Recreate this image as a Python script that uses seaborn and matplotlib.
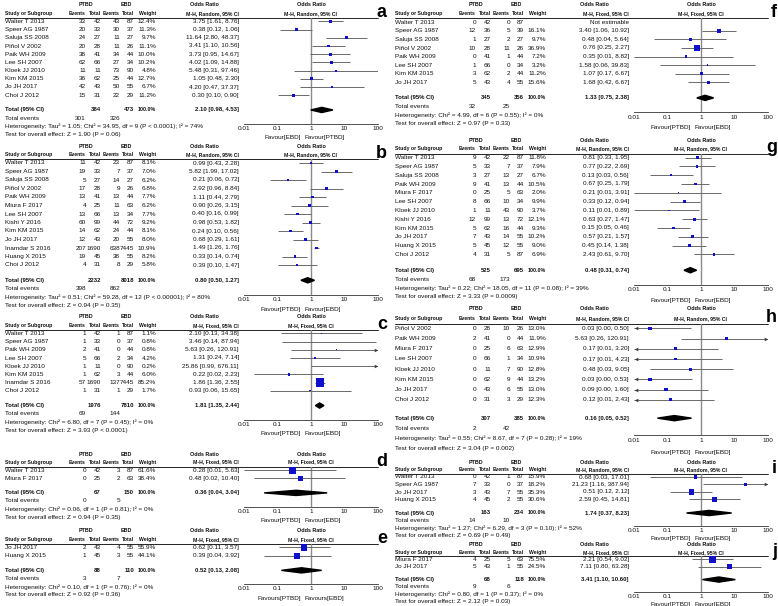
import matplotlib
matplotlib.use("Agg")
import matplotlib.pyplot as plt
import seaborn as sns
import pandas as pd
from matplotlib.ticker import NullLocator

# study rows: name, PTBD events, PTBD total, EBD events, EBD total, weight %, OR, lower, upper
a_rows = [
    ("Walter T 2013", 33, 42, 43, 87, 12.4, 3.75, 1.61, 8.76),
    ("Speer AG 1987", 20, 33, 30, 37, 11.3, 0.38, 0.12, 1.06),
    ("Saluja SS 2008", 24, 27, 11, 27, 9.7, 11.64, 2.80, 48.37),
    ("Piñol V 2002", 20, 28, 11, 26, 11.1, 3.41, 1.10, 10.56),
    ("Paik WH 2009", 38, 41, 34, 44, 10.0, 3.73, 0.95, 14.67),
    ("Lee SH 2007", 62, 66, 27, 34, 10.2, 4.02, 1.09, 14.88),
    ("Kloek JJ 2010", 11, 11, 73, 90, 4.8, 5.48, 0.31, 97.46),
    ("Kim KM 2015", 36, 62, 25, 44, 12.7, 1.05, 0.48, 2.30),
    ("Jo JH 2017", 42, 43, 50, 55, 6.7, 4.20, 0.47, 37.37),
    ("Choi J 2012", 15, 31, 22, 29, 11.2, 0.30, 0.10, 0.90),
]
a_total = (384, 473, 2.10, 0.98, 4.53)
a_events = (301, 326)
a_het = "Heterogeneity: Tau² = 1.05; Chi² = 34.95, df = 9 (P < 0.0001); I² = 74%"
a_test = "Test for overall effect: Z = 1.90 (P = 0.06)"

b_rows = [
    ("Walter T 2013", 11, 42, 23, 87, 8.1, 0.99, 0.43, 2.28),
    ("Speer AG 1987", 19, 33, 7, 37, 7.0, 5.82, 1.99, 17.02),
    ("Saluja SS 2008", 5, 27, 14, 27, 6.2, 0.21, 0.06, 0.72),
    ("Piñol V 2002", 17, 28, 9, 26, 6.8, 2.92, 0.96, 8.84),
    ("Paik WH 2009", 13, 41, 13, 44, 7.7, 1.11, 0.44, 2.79),
    ("Miura F 2017", 4, 25, 11, 63, 6.2, 0.90, 0.26, 3.15),
    ("Lee SH 2007", 13, 66, 13, 34, 7.7, 0.40, 0.16, 0.99),
    ("Kishi Y 2016", 60, 99, 44, 72, 9.2, 0.98, 0.53, 1.82),
    ("Kim KM 2015", 14, 62, 24, 44, 8.1, 0.24, 0.10, 0.56),
    ("Jo JH 2017", 12, 43, 20, 55, 8.0, 0.68, 0.29, 1.61),
    ("Inamdar S 2016", 207, 1690, 638, 7445, 10.9, 1.49, 1.26, 1.76),
    ("Huang X 2015", 19, 45, 38, 55, 8.2, 0.33, 0.14, 0.74),
    ("Choi J 2012", 4, 31, 8, 29, 5.8, 0.39, 0.10, 1.47),
]
b_total = (2232, 8018, 0.80, 0.50, 1.27)
b_events = (398, 862)
b_het = "Heterogeneity: Tau² = 0.51; Chi² = 59.28, df = 12 (P < 0.00001); I² = 80%"
b_test = "Test for overall effect: Z = 0.94 (P = 0.35)"

c_rows = [
    ("Walter T 2013", 1, 42, 1, 87, 1.1, 2.10, 0.13, 34.38),
    ("Speer AG 1987", 1, 33, 0, 37, 0.8, 3.46, 0.14, 87.94),
    ("Paik WH 2009", 2, 41, 0, 44, 0.8, 5.63, 0.26, 120.91),
    ("Lee SH 2007", 5, 66, 2, 34, 4.2, 1.31, 0.24, 7.14),
    ("Kloek JJ 2010", 1, 11, 0, 90, 0.2, 25.86, 0.99, 676.11),
    ("Kim KM 2015", 1, 62, 3, 44, 6.0, 0.22, 0.02, 2.23),
    ("Inamdar S 2016", 57, 1690, 137, 7445, 85.2, 1.86, 1.36, 2.55),
    ("Choi J 2012", 1, 31, 1, 29, 1.7, 0.93, 0.06, 15.65),
]
c_total = (1976, 7810, 1.81, 1.35, 2.44)
c_events = (69, 144)
c_het = "Heterogeneity: Chi² = 6.80, df = 7 (P = 0.45); I² = 0%"
c_test = "Test for overall effect: Z = 3.93 (P < 0.0001)"

d_rows = [
    ("Walter T 2013", 0, 42, 3, 87, 61.6, 0.28, 0.01, 5.63),
    ("Miura F 2017", 0, 25, 2, 63, 38.4, 0.48, 0.02, 10.40),
]
d_total = (67, 150, 0.36, 0.04, 3.04)
d_events = (0, 5)
d_het = "Heterogeneity: Chi² = 0.06, df = 1 (P = 0.81); I² = 0%"
d_test = "Test for overall effect: Z = 0.94 (P = 0.35)"

e_rows = [
    ("Jo JH 2017", 2, 43, 4, 55, 55.9, 0.62, 0.11, 3.57),
    ("Huang X 2015", 1, 45, 3, 55, 44.1, 0.39, 0.04, 3.92),
]
e_total = (88, 110, 0.52, 0.13, 2.08)
e_events = (3, 7)
e_het = "Heterogeneity: Chi² = 0.10, df = 1 (P = 0.76); I² = 0%"
e_test = "Test for overall effect: Z = 0.92 (P = 0.36)"

f_rows = [
    ("Walter T 2013", 0, 42, 0, 87, None, None, None, None),
    ("Speer AG 1987", 12, 36, 5, 39, 16.1, 3.40, 1.06, 10.92),
    ("Saluja SS 2008", 1, 27, 2, 27, 9.7, 0.48, 0.04, 5.64),
    ("Piñol V 2002", 10, 28, 11, 26, 36.9, 0.76, 0.25, 2.27),
    ("Paik WH 2009", 0, 41, 1, 44, 7.2, 0.35, 0.01, 8.82),
    ("Lee SH 2007", 1, 66, 0, 34, 3.2, 1.58, 0.06, 39.83),
    ("Kim KM 2015", 3, 62, 2, 44, 11.2, 1.07, 0.17, 6.67),
    ("Jo JH 2017", 5, 43, 4, 55, 15.6, 1.68, 0.42, 6.67),
]
f_total = (345, 356, 1.33, 0.75, 2.38)
f_events = (32, 25)
f_het = "Heterogeneity: Chi² = 4.99, df = 6 (P = 0.55); I² = 0%"
f_test = "Test for overall effect: Z = 0.97 (P = 0.33)"

g_rows = [
    ("Walter T 2013", 9, 42, 22, 87, 11.8, 0.81, 0.33, 1.95),
    ("Speer AG 1987", 5, 33, 7, 37, 7.9, 0.77, 0.22, 2.69),
    ("Saluja SS 2008", 3, 27, 13, 27, 6.7, 0.13, 0.03, 0.56),
    ("Paik WH 2009", 9, 41, 13, 44, 10.5, 0.67, 0.25, 1.79),
    ("Miura F 2017", 0, 25, 5, 63, 2.0, 0.21, 0.01, 3.91),
    ("Lee SH 2007", 8, 66, 10, 34, 9.9, 0.33, 0.12, 0.94),
    ("Kloek JJ 2010", 1, 11, 43, 90, 3.7, 0.11, 0.01, 0.89),
    ("Kishi Y 2016", 12, 99, 13, 72, 12.1, 0.63, 0.27, 1.47),
    ("Kim KM 2015", 5, 62, 16, 44, 9.3, 0.15, 0.05, 0.46),
    ("Jo JH 2017", 7, 43, 14, 55, 10.2, 0.57, 0.21, 1.57),
    ("Huang X 2015", 5, 45, 12, 55, 9.0, 0.45, 0.14, 1.38),
    ("Choi J 2012", 4, 31, 5, 87, 6.9, 2.43, 0.61, 9.70),
]
g_total = (525, 695, 0.48, 0.31, 0.74)
g_events = (68, 173)
g_het = "Heterogeneity: Tau² = 0.22; Chi² = 18.05, df = 11 (P = 0.08); I² = 39%"
g_test = "Test for overall effect: Z = 3.33 (P = 0.0009)"

# lower limits below 0.01 are estimated (the printed value rounds them)
h_rows = [
    ("Piñol V 2002", 0, 28, 10, 26, 13.0, 0.03, 0.003, 0.50),
    ("Paik WH 2009", 2, 41, 0, 44, 11.9, 5.63, 0.26, 120.91),
    ("Miura F 2017", 0, 25, 6, 63, 12.9, 0.17, 0.0095, 3.20),
    ("Lee SH 2007", 0, 66, 1, 34, 10.9, 0.17, 0.0070, 4.23),
    ("Kloek JJ 2010", 0, 11, 7, 90, 12.8, 0.48, 0.03, 9.05),
    ("Kim KM 2015", 0, 62, 9, 44, 13.2, 0.03, 0.002, 0.53),
    ("Jo JH 2017", 0, 43, 6, 55, 13.0, 0.09, 0.004, 1.60),
    ("Choi J 2012", 0, 31, 3, 29, 12.3, 0.12, 0.0062, 2.43),
]
h_total = (307, 385, 0.16, 0.05, 0.52)
h_events = (2, 42)
h_het = "Heterogeneity: Tau² = 0.55; Chi² = 8.67, df = 7 (P = 0.28); I² = 19%"
h_test = "Test for overall effect: Z = 3.04 (P = 0.002)"

i_rows = [
    ("Walter T 2013", 0, 42, 1, 87, 15.9, 0.68, 0.03, 17.01),
    ("Speer AG 1987", 7, 33, 0, 37, 18.2, 21.23, 1.16, 387.94),
    ("Jo JH 2017", 3, 43, 7, 55, 35.3, 0.51, 0.12, 2.12),
    ("Huang X 2015", 4, 45, 2, 55, 30.6, 2.59, 0.45, 14.81),
]
i_total = (163, 234, 1.74, 0.37, 8.23)
i_events = (14, 10)
i_het = "Heterogeneity: Tau² = 1.27; Chi² = 6.29, df = 3 (P = 0.10); I² = 52%"
i_test = "Test for overall effect: Z = 0.69 (P = 0.49)"

j_rows = [
    ("Miura F 2017", 4, 25, 5, 63, 75.5, 2.21, 0.54, 9.02),
    ("Jo JH 2017", 5, 43, 1, 55, 24.5, 7.11, 0.80, 63.28),
]
j_total = (68, 118, 3.41, 1.10, 10.60)
j_events = (9, 6)
j_het = "Heterogeneity: Chi² = 0.80, df = 1 (P = 0.37); I² = 0%"
j_test = "Test for overall effect: Z = 2.12 (P = 0.03)"

tick_vals = [0.01, 0.1, 1, 10, 100]
tick_labels = ["0.01", "0.1", "1", "10", "100"]

W, H = 778, 606
FS = 4.6      # body text
FSH = 3.7     # bold header text
FST = 4.3     # bold total row
TXT = "#111111"
BLUE = "#1010c8"
GREY = "#6a6a6a"

sns.set_style("white")
plt.rcParams["font.family"] = ["Liberation Sans", "DejaVu Sans"]

fig = plt.figure(figsize=(W / 100, H / 100), dpi=100)
canvas = fig.add_axes([0, 0, 1, 1])
canvas.set_xlim(0, W)
canvas.set_ylim(H, 0)
canvas.axis("off")


def txt(x, y, s, ha="left", bold=False, size=FS):
    canvas.text(x, y, s, ha=ha, va="center", fontsize=size, color=TXT,
                fontweight="bold" if bold else "normal")


def draw_panel(rows, total, events, het, test, letter, method, fav, x0, top, step):
    n = len(rows)
    cols = [x0 + 86, x0 + 101, x0 + 120, x0 + 134]
    # header
    txt(x0 + 86, top, "PTBD", "center", True, FSH + 0.2)
    txt(x0 + 126, top, "EBD", "center", True, FSH + 0.2)
    txt(x0 + 204, top, "Odds Ratio", "center", True, FSH + 0.2)
    txt(x0 + 311, top, "Odds Ratio", "center", True, FSH + 0.2)
    y2 = top + step
    txt(x0 + 5, y2, "Study or Subgroup", bold=True, size=FSH)
    for cx, lab in zip(cols, ["Events", "Total", "Events", "Total"]):
        txt(cx, y2, lab, "right", True, FSH)
    txt(x0 + 156, y2, "Weight", "right", True, FSH)
    txt(x0 + 239, y2, f"M-H, {method}, 95% CI", "right", True, FSH)
    txt(x0 + 311, y2, f"M-H, {method}, 95% CI", "center", True, FSH)
    y_ul = y2 + 0.55 * step
    canvas.plot([x0 + 5, x0 + 378], [y_ul, y_ul], color="black", lw=0.6)
    canvas.text(x0 + 387, top + 0.9 * step, letter, ha="right", va="center",
                fontsize=13, fontweight="bold", color="black")

    # study rows
    ys = [top + (2 + k) * step for k in range(n)]
    for y, r in zip(ys, rows):
        name, e1, t1, e2, t2, w, orv, lo, hi = r
        txt(x0 + 5, y, name)
        for cx, v in zip(cols, [e1, t1, e2, t2]):
            txt(cx, y, str(v), "right")
        if w is None:
            txt(x0 + 239, y, "Not estimable", "right")
        else:
            txt(x0 + 156, y, f"{w:.1f}%", "right")
            txt(x0 + 239, y, f"{orv:.2f} [{lo:.2f}, {hi:.2f}]", "right")

    yt = top + (2 + n + 0.8) * step
    txt(x0 + 5, yt, "Total (95% CI)", bold=True, size=FST)
    txt(cols[1], yt, str(total[0]), "right", True, FST)
    txt(cols[3], yt, str(total[1]), "right", True, FST)
    txt(x0 + 156, yt, "100.0%", "right", True, FSH + 0.2)
    txt(x0 + 239, yt, f"{total[2]:.2f} [{total[3]:.2f}, {total[4]:.2f}]", "right", True, FST)
    txt(x0 + 5, yt + step, "Total events")
    txt(cols[0], yt + step, str(events[0]), "right")
    txt(cols[2], yt + step, str(events[1]), "right")
    txt(x0 + 5, yt + 2 * step, het)
    txt(x0 + 5, yt + 3 * step, test)

    # forest axes, data y in pixel units
    y_axis = yt + 1.7 * step
    ax = fig.add_axes([(x0 + 244) / W, 1 - y_axis / H, 134 / W, (y_axis - y_ul) / H])
    ax.set_xscale("log")
    ax.set_xlim(0.01, 100)
    ax.set_ylim(y_axis, y_ul)
    for s in ["top", "left", "right"]:
        ax.spines[s].set_visible(False)
    ax.spines["bottom"].set_linewidth(0.6)
    ax.spines["bottom"].set_color("#333333")
    ax.set_xticks(tick_vals)
    ax.set_xticklabels(tick_labels)
    ax.xaxis.set_minor_locator(NullLocator())
    ax.set_yticks([])
    ax.tick_params(axis="x", direction="in", length=3, width=0.6, labelsize=FS,
                   pad=1.5, colors="#333333", labelcolor=TXT)
    ax.patch.set_alpha(0)
    ax.axvline(1, color="#8a8a8a", lw=1.0, zorder=1)

    df = pd.DataFrame(rows, columns=["study", "e1", "t1", "e2", "t2", "weight", "or", "lo", "hi"])
    df["y"] = ys
    df = df.dropna(subset=["or"])
    for _, r in df.iterrows():
        ax.hlines(r["y"], max(r["lo"], 0.01), min(r["hi"], 100), color=GREY, lw=0.7, zorder=2)
        if r["lo"] < 0.01:
            ax.plot(0.0118, r["y"], marker="<", ms=2.6, color="#404040", mew=0, zorder=3)
        if r["hi"] > 100:
            ax.plot(85, r["y"], marker=">", ms=2.6, color="#404040", mew=0, zorder=3)
    sns.scatterplot(data=df, x="or", y="y", size="weight", sizes=(0, 42),
                    size_norm=(0, 100), marker="s", color=BLUE, linewidth=0,
                    legend=False, ax=ax, zorder=4)
    ax.set_xlabel("")
    ax.set_ylabel("")
    ax.fill([total[3], total[2], total[4], total[2]],
            [yt, yt - 2.6, yt, yt + 2.6], color="black", zorder=4)

    yf = yt + 3.4 * step
    txt(x0 + 301, yf, fav[0], "right")
    txt(x0 + 305, yf, fav[1], "left")


FAV = ("Favour[PTBD]", "Favour[EBD]")
draw_panel(a_rows, a_total, a_events, a_het, a_test, "a", "Random", ("Favour[EBD]", "Favour[PTBD]"), 0, 5, 8.2)
draw_panel(b_rows, b_total, b_events, b_het, b_test, "b", "Random", FAV, 0, 146, 8.5)
draw_panel(c_rows, c_total, c_events, c_het, c_test, "c", "Fixed", FAV, 0, 317, 8.2)
draw_panel(d_rows, d_total, d_events, d_het, d_test, "d", "Fixed", FAV, 0, 454, 8.1)
draw_panel(e_rows, e_total, e_events, e_het, e_test, "e", "Fixed", ("Favours[PTBD]", "Favours[EBD]"), 0, 531, 8.2)
draw_panel(f_rows, f_total, f_events, f_het, f_test, "f", "Fixed", FAV, 390, 5, 8.6)
draw_panel(g_rows, g_total, g_events, g_het, g_test, "g", "Random", FAV, 390, 140, 8.8)
draw_panel(h_rows, h_total, h_events, h_het, h_test, "h", "Random", FAV, 390, 308, 10.2)
draw_panel(i_rows, i_total, i_events, i_het, i_test, "i", "Random", FAV, 390, 462, 7.5)
draw_panel(j_rows, j_total, j_events, j_het, j_test, "j", "Fixed", FAV, 390, 545, 7.2)

fig.savefig("out.png", dpi=100)
